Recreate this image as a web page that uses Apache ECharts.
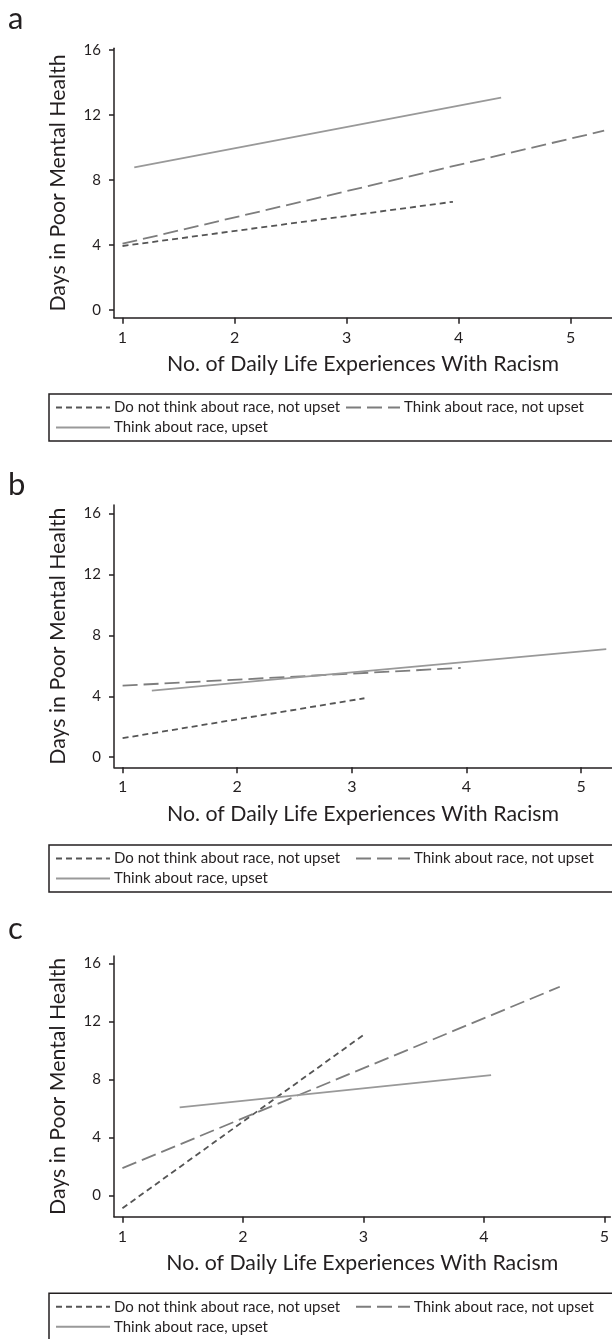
<!DOCTYPE html>
<html>
<head>
<meta charset="utf-8">
<script src="https://cdn.jsdelivr.net/npm/echarts@6/dist/echarts.min.js"></script>
<style>
html, body { margin: 0; padding: 0; background: #fff; }
#chart { width: 612px; height: 1339px; }
</style>
</head>
<body>
<div id="chart"></div>
<script>
// tick labels
const xTicks = [1, 2, 3, 4, 5];
const yTicks = [0, 4, 8, 12, 16];
const seriesNames = ['Do not think about race, not upset', 'Think about race, not upset', 'Think about race, upset'];
const panelLetters = ['a', 'b', 'c'];

// fitted lines, [x, y] end points
const aNotThink = [[1.0, 3.94], [3.95, 6.66]];
const aThinkNotUpset = [[1.0, 4.08], [5.30, 11.03]];
const aThinkUpset = [[1.105, 8.78], [4.38, 13.07]];

const bNotThink = [[1.0, 1.25], [3.11, 3.87]];
const bThinkNotUpset = [[1.0, 4.70], [3.95, 5.86]];
const bThinkUpset = [[1.255, 4.37], [5.22, 7.10]];

const cNotThink = [[1.0, -0.87], [3.0, 11.06]];
const cThinkNotUpset = [[1.0, 1.89], [4.63, 14.38]];
const cThinkUpset = [[1.475, 6.08], [4.06, 8.30]];

const panelData = [
    [aNotThink, aThinkNotUpset, aThinkUpset],
    [bNotThink, bThinkNotUpset, bThinkUpset],
    [cNotThink, cThinkNotUpset, cThinkUpset]
];

// layout of each panel (pixels / axis extents)
const layout = [
    {top: 48.3, axisY: 317.7, xMin: 0.924, xMax: 5.37, yMin: -0.47, yMax: 16.1, letterTop: 3, boxTop: 394, item2: 345},
    {top: 505, axisY: 767.3, xMin: 0.925, xMax: 5.27, yMin: -0.66, yMax: 16.55, letterTop: 469, boxTop: 845, item2: 355},
    {top: 956, axisY: 1216.7, xMin: 0.93, xMax: 5.05, yMin: -1.45, yMax: 16.5, letterTop: 913, boxTop: 1293.3, item2: 355}
];

const ink = '#231f20';
const font = 'Lato';
const lineStyles = [
    {color: '#555555', width: 1.8, type: [6, 4]},
    {color: '#7d7d7d', width: 1.8, type: [15, 6]},
    {color: '#999999', width: 1.8, type: 'solid'}
];

let chart = echarts.init(document.getElementById('chart'), null, {renderer: 'canvas'});

let grids = [], xAxes = [], yAxes = [], series = [], legends = [], titles = [], graphics = [];

layout.forEach((p, i) => {
    grids.push({left: 114, right: 0, top: p.top, bottom: 1339 - p.axisY});
    xAxes.push({
        type: 'value', gridIndex: i, min: p.xMin, max: p.xMax,
        name: 'No. of Daily Life Experiences With Racism',
        nameLocation: 'middle', nameGap: 36,
        nameTextStyle: {fontSize: 21.3, color: ink, fontFamily: font},
        axisLine: {show: true, onZero: false, lineStyle: {color: ink, width: 1.5}},
        axisTick: {show: true, length: 6, customValues: xTicks, lineStyle: {color: ink, width: 1.5}},
        axisLabel: {customValues: xTicks, fontSize: 16, color: ink, fontFamily: font, margin: 12},
        splitLine: {show: false}
    });
    yAxes.push({
        type: 'value', gridIndex: i, min: p.yMin, max: p.yMax,
        name: 'Days in Poor Mental Health',
        nameLocation: 'middle', nameGap: 45,
        nameTextStyle: {fontSize: 21.3, color: ink, fontFamily: font},
        axisLine: {show: true, onZero: false, lineStyle: {color: ink, width: 1.5}},
        axisTick: {show: true, length: 5, customValues: yTicks, lineStyle: {color: ink, width: 1.5}},
        axisLabel: {customValues: yTicks, fontSize: 15, color: ink, fontFamily: font, margin: 13},
        splitLine: {show: false}
    });
    panelData[i].forEach((d, k) => {
        series.push({
            name: seriesNames[k], type: 'line', xAxisIndex: i, yAxisIndex: i,
            data: d, symbol: 'none', color: lineStyles[k].color,
            lineStyle: lineStyles[k], silent: true
        });
    });
    titles.push({
        text: panelLetters[i], left: 8, top: p.letterTop, padding: 0,
        textStyle: {fontSize: 31, fontWeight: 'normal', color: ink, fontFamily: font}
    });
    const legendBase = {
        orient: 'horizontal', padding: 0, itemWidth: 54, itemHeight: 14, itemGap: 10,
        selectedMode: false,
        itemStyle: {opacity: 0},
        textStyle: {fontSize: 15, color: ink, fontFamily: font, padding: [0, 0, 0, -1]}
    };
    legends.push(Object.assign({}, legendBase, {data: [seriesNames[0]], left: 55, top: p.boxTop + 13 - 7}));
    legends.push(Object.assign({}, legendBase, {data: [seriesNames[1]], left: p.item2, top: p.boxTop + 13 - 7}));
    legends.push(Object.assign({}, legendBase, {data: [seriesNames[2]], left: 55, top: p.boxTop + 33 - 7}));
    graphics.push({
        type: 'rect', shape: {x: 49, y: p.boxTop, width: 600, height: 47},
        style: {fill: 'none', stroke: ink, lineWidth: 1.5}, silent: true
    });
});

chart.setOption({
    animation: false,
    backgroundColor: '#fff',
    title: titles,
    grid: grids,
    xAxis: xAxes,
    yAxis: yAxes,
    legend: legends,
    graphic: graphics,
    series: series
});
</script>
</body>
</html>
